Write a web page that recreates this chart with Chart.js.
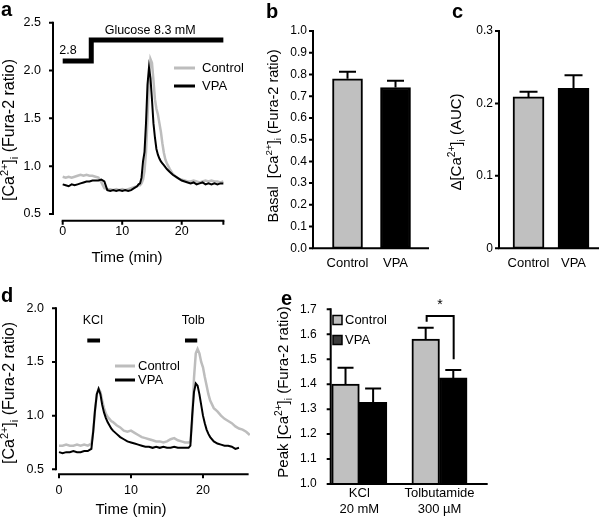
<!DOCTYPE html>
<html><head><meta charset="utf-8">
<script src="https://cdn.jsdelivr.net/npm/chart.js@4.4.1/dist/chart.umd.min.js"></script>
<style>
html,body{margin:0;padding:0;background:#fff;}
#wrap{position:relative;width:600px;height:517px;overflow:hidden;background:#fff}
#wrap canvas{position:absolute;left:0;top:0}
</style></head><body>
<div id="wrap">
<canvas id="pa" width="600" height="517"></canvas>
<canvas id="pb" width="600" height="517"></canvas>
<canvas id="pc" width="600" height="517"></canvas>
<canvas id="pd" width="600" height="517"></canvas>
<canvas id="pe" width="600" height="517"></canvas>
</div>
<script>
// ---------------- DATA ----------------
// Panel a: glucose 2.8 -> 8.3 mM, time course
const aTime = [0,0.5,1,1.5,2,2.5,3,3.5,4,4.5,5,5.5,6,6.5,7,7.5,8,8.5,9,9.5,10,10.5,11,11.5,12,12.5,
  12.75,13,13.25,13.5,13.75,14,14.25,14.5,14.75,15,15.25,15.5,15.75,16,16.25,16.5,16.75,17,17.25,17.5,
  18,18.5,19,19.5,20,20.5,21,21.5,22,22.5,23,23.5,24,24.5,25,25.5,26,26.5,27];
const aControl = [0.89,0.88,0.89,0.88,0.89,0.90,0.91,0.90,0.91,0.90,0.90,0.89,0.88,0.83,0.77,0.76,0.76,0.75,0.76,0.75,0.76,0.75,0.76,0.77,0.78,0.79,
  0.80,0.80,0.82,0.86,0.95,1.15,1.50,1.90,2.12,2.08,1.90,1.70,1.60,1.54,1.45,1.36,1.24,1.14,1.07,1.03,
  0.97,0.92,0.89,0.87,0.86,0.85,0.84,0.84,0.85,0.84,0.83,0.84,0.85,0.84,0.85,0.84,0.84,0.83,0.84];
const aVPA = [0.81,0.80,0.79,0.81,0.80,0.81,0.82,0.83,0.84,0.84,0.85,0.85,0.85,0.86,0.84,0.75,0.74,0.75,0.74,0.75,0.74,0.75,0.74,0.75,0.77,0.79,
  0.81,0.82,0.88,1.05,1.15,1.45,1.85,2.03,1.92,1.70,1.45,1.30,1.18,1.12,1.08,1.05,1.03,1.01,0.99,0.97,
  0.94,0.91,0.89,0.87,0.85,0.84,0.83,0.82,0.83,0.81,0.82,0.83,0.81,0.82,0.81,0.82,0.81,0.82,0.82];
const aGlucoseTime = [0, 4.8, 4.8, 27];
const aGlucoseLevel = [2.10, 2.10, 2.32, 2.32];
const aYTicks = [0.5, 1.0, 1.5, 2.0, 2.5];
const aYTickLabels = ['0.5', '1.0', '1.5', '2.0', '2.5'];
const aXTicks = [0, 10, 20];
const aXTickLabels = ['0', '10', '20'];

// Panel b: basal [Ca2+]i
const bCategories = ['Control', 'VPA'];
const bMeans = [0.78, 0.74];
const bErrors = [0.032, 0.031];
const bYTicks = [0, 0.1, 0.2, 0.3, 0.4, 0.5, 0.6, 0.7, 0.8, 0.9, 1.0];
const bYTickLabels = ['0.0','0.1','0.2','0.3','0.4','0.5','0.6','0.7','0.8','0.9','1.0'];

// Panel c: delta [Ca2+]i (AUC)
const cCategories = ['Control', 'VPA'];
const cMeans = [0.209, 0.221];
const cErrors = [0.007, 0.018];
const cYTicks = [0, 0.1, 0.2, 0.3];
const cYTickLabels = ['0', '0.1', '0.2', '0.3'];

// Panel d: KCl and tolbutamide time course
const dTime = [0,0.5,1,1.5,2,2.5,3,3.5,4,
  4.25,4.5,4.75,5,5.25,5.5,5.75,6,6.25,6.5,6.75,7,7.25,7.5,
  8,8.5,9,9.5,10,10.5,11,11.5,12,12.5,13,13.5,14,14.5,15,15.5,16,16.5,17,17.5,
  17.75,18,18.25,18.5,18.75,19,19.25,19.5,19.75,20,20.25,20.5,20.75,21,
  21.5,22,22.5,23,23.5,24,24.5,25,25.5,26,26.5];
const dControl = [0.72,0.72,0.73,0.72,0.72,0.73,0.72,0.73,0.72,
  0.73,0.74,0.85,1.05,1.20,1.25,1.22,1.14,1.07,1.02,0.99,0.97,0.95,0.94,
  0.91,0.89,0.86,0.85,0.86,0.84,0.82,0.80,0.79,0.78,0.77,0.76,0.76,0.75,0.76,0.78,0.79,0.77,0.76,0.75,
  0.75,0.75,0.76,0.95,1.35,1.58,1.62,1.58,1.50,1.45,1.36,1.28,1.20,1.14,
  1.07,1.04,1.00,0.97,0.95,0.93,0.90,0.88,0.87,0.85,0.82];
const dVPA = [0.66,0.65,0.66,0.66,0.67,0.66,0.66,0.67,0.67,
  0.68,0.69,0.85,1.05,1.20,1.25,1.20,1.10,1.03,0.98,0.94,0.91,0.88,0.86,
  0.83,0.80,0.78,0.76,0.75,0.74,0.73,0.72,0.71,0.71,0.70,0.71,0.70,0.71,0.70,0.70,0.71,0.70,0.70,0.70,
  0.70,0.70,0.72,1.00,1.22,1.30,1.28,1.20,1.10,1.00,0.93,0.87,0.83,0.80,
  0.76,0.74,0.73,0.72,0.72,0.71,0.69,0.70];
const dKClTime = [3.93, 5.7];
const dTolbTime = [17.5, 19.2];
const dMarkerLevel = 1.70;
const dYTicks = [0.5, 1.0, 1.5, 2.0];
const dYTickLabels = ['0.5', '1.0', '1.5', '2.0'];
const dXTicks = [0, 10, 20];
const dXTickLabels = ['0', '10', '20'];

// Panel e: peak [Ca2+]i
const eCategories = [['KCl', '20 mM'], ['Tolbutamide', '300 \u00b5M']];
const eControl = [1.40, 1.581];
const eControlErr = [0.066, 0.045];
const eVPA = [1.327, 1.425];
const eVPAErr = [0.056, 0.032];
const eYTicks = [1.0, 1.1, 1.2, 1.3, 1.4, 1.5, 1.6, 1.7];
const eYTickLabels = ['1.0','1.1','1.2','1.3','1.4','1.5','1.6','1.7'];

// ---------------- STYLE / HELPERS ----------------
const FONT = "'Liberation Sans', Arial, Helvetica, sans-serif";
Chart.defaults.font.family = FONT;
Chart.defaults.color = '#000';
const GRAY_TRACE = '#bdbdbd';
const GRAY_BAR = '#c0c0c0';
const YW = 48, XH = 40;
const CA_SEGS = [{t:'[Ca'},{t:'2+',sup:1},{t:']'},{t:'i',sub:1},{t:' (Fura-2 ratio)'}];

function pad(area){
  return {left: area.left - YW, top: area.top, right: 600 - area.right, bottom: 517 - area.bottom - XH};
}
function linScale(axis, min, max, ticks, labels, padding, size){
  return {
    type:'linear', min, max, offset:false, position: axis === 'y' ? 'left' : 'bottom',
    grid:{display:false, drawTicks:false, tickLength:0, offset:false}, border:{display:false},
    afterFit(s){ if (axis === 'y') s.width = YW; else s.height = XH; },
    afterBuildTicks(s){ s.ticks = ticks.map(v => ({value:v})); },
    ticks:{autoSkip:false, maxRotation:0, minRotation:0, padding, font:{size}, color:'#000',
      callback:(v, i) => labels[i]}
  };
}
function xy(xs, ys){ return xs.slice(0, ys.length).map((x, i) => ({x, y: ys[i]})); }

function drawRich(ctx, segs, cx, cy, size, rotate){
  ctx.save();
  ctx.translate(cx, cy);
  if (rotate) ctx.rotate(-Math.PI/2);
  let total = 0;
  const parts = segs.map(s => {
    const fs = (s.sup || s.sub) ? size*0.68 : size;
    ctx.font = fs + 'px ' + FONT;
    const w = ctx.measureText(s.t).width;
    total += w;
    return {s, fs, w};
  });
  let x = -total/2;
  ctx.textBaseline = 'middle'; ctx.textAlign = 'left'; ctx.fillStyle = '#000';
  parts.forEach(p => {
    ctx.font = p.fs + 'px ' + FONT;
    const dy = p.s.sup ? -size*0.33 : (p.s.sub ? size*0.32 : 0);
    ctx.fillText(p.s.t, x, dy);
    x += p.w;
  });
  ctx.restore();
}

function deco(spec){
  return {
    id:'deco',
    afterDatasetsDraw(chart){
      const ctx = chart.ctx, ys = chart.scales.y;
      if (!spec.errors) return;
      ctx.save(); ctx.strokeStyle = '#000'; ctx.lineWidth = 2; ctx.lineCap = 'butt';
      spec.errors.forEach((errs, di) => {
        const meta = chart.getDatasetMeta(di);
        const vals = chart.data.datasets[di].data;
        meta.data.forEach((el, j) => {
          const top = ys.getPixelForValue(vals[j].y + errs[j]);
          ctx.beginPath();
          ctx.moveTo(el.x, el.y); ctx.lineTo(el.x, top);
          ctx.moveTo(el.x - spec.cap, top); ctx.lineTo(el.x + spec.cap, top);
          ctx.stroke();
        });
      });
      ctx.restore();
    },
    afterDraw(chart){
      const ctx = chart.ctx, xs = chart.scales.x, ys = chart.scales.y, ca = chart.chartArea;
      const L = ca.left, B = ca.bottom;
      ctx.save();
      ctx.strokeStyle = '#000'; ctx.fillStyle = '#000'; ctx.lineWidth = 2; ctx.lineCap = 'square';
      ctx.beginPath();
      ctx.moveTo(L, ys.getPixelForValue(spec.yLine[0])); ctx.lineTo(L, ys.getPixelForValue(spec.yLine[1]));
      ctx.moveTo(xs.getPixelForValue(spec.xLine[0]), B); ctx.lineTo(xs.getPixelForValue(spec.xLine[1]), B);
      ctx.stroke();
      ctx.lineCap = 'butt';
      ctx.beginPath();
      (spec.yTickMarks || []).forEach(v => { const p = ys.getPixelForValue(v); ctx.moveTo(L, p); ctx.lineTo(L - 4, p); });
      (spec.xTickMarks || []).forEach(v => { const p = xs.getPixelForValue(v); ctx.moveTo(p, B); ctx.lineTo(p, B + 4); });
      ctx.stroke();
      if (spec.yTitle) drawRich(ctx, spec.yTitle.segs, spec.yTitle.x, spec.yTitle.y, spec.yTitle.size, true);
      if (spec.xTitle) {
        ctx.font = spec.xTitle.size + 'px ' + FONT; ctx.textAlign = 'center'; ctx.textBaseline = 'middle';
        ctx.fillText(spec.xTitle.text, spec.xTitle.x, spec.xTitle.y);
      }
      ctx.font = 'bold 20px ' + FONT; ctx.textAlign = 'left'; ctx.textBaseline = 'alphabetic';
      ctx.fillText(spec.letter.t, spec.letter.x, spec.letter.y);
      (spec.texts || []).forEach(t => {
        ctx.font = t.size + 'px ' + FONT; ctx.textAlign = 'center'; ctx.textBaseline = 'middle';
        ctx.fillText(t.t, xs.getPixelForValue(t.x), ys.getPixelForValue(t.y));
      });
      if (spec.bracket) {
        const b = spec.bracket;
        ctx.lineWidth = 2; ctx.lineCap = 'butt'; ctx.lineJoin = 'miter';
        ctx.beginPath();
        ctx.moveTo(xs.getPixelForValue(b.x0), ys.getPixelForValue(b.y0));
        ctx.lineTo(xs.getPixelForValue(b.x0), ys.getPixelForValue(b.yTop));
        ctx.lineTo(xs.getPixelForValue(b.x1), ys.getPixelForValue(b.yTop));
        ctx.lineTo(xs.getPixelForValue(b.x1), ys.getPixelForValue(b.y1));
        ctx.stroke();
      }
      if (spec.legend) {
        const lg = spec.legend;
        lg.items.forEach((di, k) => {
          const ds = chart.data.datasets[di];
          const y = lg.y + k * lg.dy;
          if (lg.kind === 'line') {
            ctx.strokeStyle = ds.borderColor; ctx.lineWidth = 3; ctx.lineCap = 'butt';
            ctx.beginPath(); ctx.moveTo(lg.x, y); ctx.lineTo(lg.x + lg.len, y); ctx.stroke();
          } else {
            const s = lg.box;
            ctx.fillStyle = lg.fills[k]; ctx.fillRect(lg.x, y - s/2, s, s);
            ctx.strokeStyle = '#000'; ctx.lineWidth = 1.5; ctx.strokeRect(lg.x, y - s/2, s, s);
          }
          ctx.fillStyle = '#000'; ctx.font = lg.size + 'px ' + FONT;
          ctx.textAlign = 'left'; ctx.textBaseline = 'middle';
          ctx.fillText(ds.label, lg.tx, y);
        });
      }
      ctx.restore();
    }
  };
}
const baseOpts = {animation:false, responsive:false, events:[],
  plugins:{legend:{display:false}, tooltip:{enabled:false}},
  elements:{point:{radius:0}, line:{tension:0}}};

// ---------------- PANEL a ----------------
const A_AREA = {left:53, top:22.7, right:228, bottom:220.7};
new Chart(document.getElementById('pa'), {
  type:'line',
  data:{datasets:[
    {label:'Glucose', data: xy(aGlucoseTime, aGlucoseLevel), borderColor:'#000', borderWidth:5, order:0,
      borderJoinStyle:'miter', borderCapStyle:'butt'},
    {label:'Control', data: xy(aTime, aControl), borderColor:GRAY_TRACE, borderWidth:2.5, order:2},
    {label:'VPA', data: xy(aTime, aVPA), borderColor:'#000', borderWidth:2, order:1}
  ]},
  options:Object.assign({}, baseOpts, {
    layout:{padding:pad(A_AREA)},
    scales:{
      x: linScale('x', -1.63, 27.78, aXTicks, aXTickLabels, 3, 12.5),
      y: linScale('y', 0.43, 2.5, aYTicks, aYTickLabels, 12, 12.5)
    }
  }),
  plugins:[deco({
    yLine:[0.5, 2.5], xLine:[0, 27], yTickMarks:aYTicks, xTickMarks:[0, 10, 20, 27],
    yTitle:{segs:CA_SEGS, x:10, y:130, size:16},
    xTitle:{text:'Time (min)', x:127, y:258, size:15},
    letter:{t:'a', x:1, y:16},
    texts:[{t:'2.8', x:0.9, y:2.21, size:12.5}, {t:'Glucose 8.3 mM', x:14.7, y:2.42, size:12.5}],
    legend:{kind:'line', x:174, len:21, y:68, dy:18, tx:202, size:13, items:[1, 2]}
  })]
});

// ---------------- PANEL b ----------------
const B_AREA = {left:313, top:31, right:428, bottom:248.3};
new Chart(document.getElementById('pb'), {
  type:'bar',
  data:{datasets:[{label:'Basal', data: bMeans.map((v, i) => ({x:i+1, y:v})),
    backgroundColor:[GRAY_BAR, '#000'], borderColor:'#000', borderWidth:2, borderSkipped:false, barThickness:30}]},
  options:Object.assign({}, baseOpts, {
    layout:{padding:pad(B_AREA)},
    scales:{
      x: linScale('x', 0.281, 2.677, [1, 2], bCategories, 7.5, 13),
      y: linScale('y', 0, 1.0, bYTicks, bYTickLabels, 6, 12)
    }
  }),
  plugins:[deco({
    yLine:[0, 1.0], xLine:[0.281, 2.677], yTickMarks:bYTicks,
    errors:[bErrors], cap:8.5,
    yTitle:{segs:[{t:'Basal  [Ca'},{t:'2+',sup:1},{t:']'},{t:'i',sub:1},{t:' (Fura-2 ratio)'}], x:274, y:136, size:14.5},
    letter:{t:'b', x:266, y:18}
  })]
});

// ---------------- PANEL c ----------------
const C_AREA = {left:499, top:31, right:598, bottom:248.3};
new Chart(document.getElementById('pc'), {
  type:'bar',
  data:{datasets:[{label:'AUC', data: cMeans.map((v, i) => ({x:i+1, y:v})),
    backgroundColor:[GRAY_BAR, '#000'], borderColor:'#000', borderWidth:2, borderSkipped:false, barThickness:31}]},
  options:Object.assign({}, baseOpts, {
    layout:{padding:pad(C_AREA)},
    scales:{
      x: linScale('x', 0.344, 2.544, [1, 2], cCategories, 7.5, 13),
      y: linScale('y', 0, 0.3, cYTicks, cYTickLabels, 6, 12)
    }
  }),
  plugins:[deco({
    yLine:[0, 0.3], xLine:[0.344, 2.544], yTickMarks:cYTicks,
    errors:[cErrors], cap:9,
    yTitle:{segs:[{t:'\u0394[Ca'},{t:'2+',sup:1},{t:']'},{t:'i',sub:1},{t:' (AUC)'}], x:457, y:142, size:15},
    letter:{t:'c', x:452, y:18}
  })]
});

// ---------------- PANEL d ----------------
const D_AREA = {left:56, top:308.3, right:250, bottom:474.3};
new Chart(document.getElementById('pd'), {
  type:'line',
  data:{datasets:[
    {label:'KCl', data: dKClTime.map(t => ({x:t, y:dMarkerLevel})), borderColor:'#000', borderWidth:4, order:0, borderCapStyle:'butt'},
    {label:'Tolb', data: dTolbTime.map(t => ({x:t, y:dMarkerLevel})), borderColor:'#000', borderWidth:4, order:0, borderCapStyle:'butt'},
    {label:'Control', data: xy(dTime, dControl), borderColor:GRAY_TRACE, borderWidth:2.5, order:2},
    {label:'VPA', data: xy(dTime, dVPA), borderColor:'#000', borderWidth:2, order:1}
  ]},
  options:Object.assign({}, baseOpts, {
    layout:{padding:pad(D_AREA)},
    scales:{
      x: linScale('x', -0.417, 26.53, dXTicks, dXTickLabels, 9, 12.5),
      y: linScale('y', 0.4534, 2.0, dYTicks, dYTickLabels, 12, 12.5)
    }
  }),
  plugins:[deco({
    yLine:[0.5, 2.0], xLine:[0, 26.2], yTickMarks:dYTicks, xTickMarks:dXTicks,
    yTitle:{segs:CA_SEGS, x:10, y:393, size:16},
    xTitle:{text:'Time (min)', x:131, y:510, size:15},
    letter:{t:'d', x:1, y:302},
    texts:[{t:'KCl', x:4.7, y:1.89, size:12.5}, {t:'Tolb', x:18.65, y:1.89, size:12.5}],
    legend:{kind:'line', x:115, len:20, y:366, dy:14, tx:138, size:13, items:[2, 3]}
  })]
});

// ---------------- PANEL e ----------------
const E_AREA = {left:330.7, top:309.3, right:486.7, bottom:484};
new Chart(document.getElementById('pe'), {
  type:'bar',
  data:{datasets:[
    {label:'Control', data: eControl.map((v, i) => ({x:i+1, y:v})), backgroundColor:GRAY_BAR,
      borderColor:'#000', borderWidth:2, borderSkipped:false, barThickness:27.6},
    {label:'VPA', data: eVPA.map((v, i) => ({x:i+1, y:v})), backgroundColor:'#000',
      borderColor:'#000', borderWidth:2, borderSkipped:false, barThickness:27.6}
  ]},
  options:Object.assign({}, baseOpts, {
    layout:{padding:pad(E_AREA)},
    scales:{
      x: linScale('x', 0.643, 2.589, [1, 2], eCategories, 2, 13),
      y: linScale('y', 1.0, 1.7, eYTicks, eYTickLabels, 14, 12)
    }
  }),
  plugins:[deco({
    yLine:[1.0, 1.7], xLine:[0.643, 2.589], yTickMarks:eYTicks,
    errors:[eControlErr, eVPAErr], cap:8,
    yTitle:{segs:[{t:'Peak [Ca'},{t:'2+',sup:1},{t:']'},{t:'i',sub:1},{t:' (Fura-2 ratio)'}], x:284, y:392, size:15},
    letter:{t:'e', x:281, y:305},
    bracket:{x0:1.84, x1:2.177, yTop:1.673, y0:1.650, y1:1.50},
    texts:[{t:'*', x:2.006, y:1.717, size:14}],
    legend:{kind:'box', x:333, box:9, y:320, dy:20, tx:345, size:13, fills:[GRAY_BAR, '#3a3a3a'], items:[0, 1]}
  })]
});
</script>
</body></html>
